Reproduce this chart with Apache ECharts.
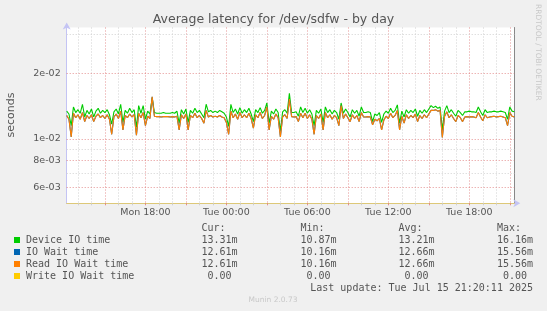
<!DOCTYPE html>
<html><head><meta charset="utf-8">
<script src="https://cdn.jsdelivr.net/npm/echarts@6/dist/echarts.min.js"></script>
<style>html,body{margin:0;padding:0;background:#f0f0f0}#c{width:547px;height:311px}</style>
</head><body><div id="c"></div>
<script>
const titleText = 'Average latency for /dev/sdfw - by day';
const yAxisName = 'seconds';
const startMinute = 730;   // Mon 12:10, minutes from Mon 00:00
const stepMinutes = 10;
const dayNames = ['Mon', 'Tue'];
const xTickLabels = ['Mon 18:00', 'Tue 00:00', 'Tue 06:00', 'Tue 12:00', 'Tue 18:00'];
const yMajorTicks = [20, 10, 8, 6];          // milliseconds
const yMajorLabels = ['2e-02', '1e-02', '8e-03', '6e-03'];
const yMinorTicks = [30, 9, 7];
const yMin = 5.08, yMax = 32.3;

// values in milliseconds, one every 10 minutes
const deviceIO = [
13.4,13.0,11.5,14.0,13.2,13.6,13.1,14.4,12.6,13.5,13.0,13.7,12.6,13.4,13.8,13.1,13.5,13.2,13.6,12.9,
11.7,13.3,13.7,13.0,14.4,11.9,13.5,13.1,13.8,13.2,13.6,11.3,14.2,13.1,14.2,12.3,13.4,13.0,15.4,13.2,
13.1,13.1,13.1,13.2,13.1,13.1,13.1,13.2,13.1,13.4,11.8,13.6,13.0,13.7,11.9,13.5,13.1,13.8,13.2,13.5,
13.0,12.5,14.4,13.3,13.5,13.2,13.4,13.2,13.5,13.3,13.1,12.6,11.4,14.4,13.2,13.7,13.0,13.9,13.1,13.6,
13.2,13.8,13.0,12.0,13.6,13.2,13.9,13.1,13.5,14.6,11.8,13.4,13.0,13.7,13.2,10.87,13.3,13.6,13.1,16.16,
13.2,13.2,13.3,12.7,14.0,13.2,13.8,13.1,13.6,13.0,11.5,13.5,13.1,13.7,11.9,14.0,13.2,13.6,13.0,13.5,
13.2,12.3,14.6,13.1,13.7,13.2,12.6,13.6,13.1,13.5,12.7,14.0,13.2,13.2,13.3,13.2,12.0,13.0,12.8,13.2,
11.9,13.0,13.4,13.1,13.8,13.2,13.5,14.3,11.8,13.4,12.6,13.6,13.1,13.5,13.2,13.7,12.7,13.5,13.1,13.6,
13.2,13.7,14.2,13.9,14.1,13.8,14.0,11.0,13.4,14.2,13.2,13.6,13.1,12.7,13.5,13.2,12.8,13.3,13.3,13.4,
13.3,13.3,13.2,14.0,13.3,12.8,13.6,13.2,13.3,13.3,13.4,13.3,13.3,13.4,13.3,13.2,12.3,14.0,13.4,13.31
];
const readIOWait = [
12.8,12.3,10.2,13.1,12.5,12.9,12.3,13.2,12.0,12.8,12.4,12.9,12.0,12.7,13.0,12.5,12.8,12.4,12.9,12.3,
10.5,12.6,13.0,12.4,13.4,11.0,12.8,12.5,13.0,12.6,12.9,10.4,13.1,12.5,13.2,11.5,12.7,12.4,15.56,12.7,
12.65,12.65,12.6,12.65,12.65,12.65,12.6,12.65,12.6,12.7,11.0,12.9,12.4,13.0,11.0,12.8,12.5,13.1,12.5,12.8,
12.4,11.8,13.5,12.6,12.8,12.6,12.7,12.6,12.8,12.6,12.5,11.9,10.5,13.4,12.5,13.0,12.3,13.2,12.5,12.9,
12.5,13.1,12.4,11.2,12.9,12.5,13.2,12.4,12.8,14.0,11.0,12.7,12.3,13.0,12.5,10.2,12.6,12.9,12.4,15.2,
12.65,12.6,12.65,12.0,13.1,12.5,13.1,12.4,12.9,12.3,10.5,12.8,12.4,13.0,11.0,13.2,12.5,12.9,12.3,12.8,
12.5,11.5,14.2,12.4,13.0,12.5,12.0,12.9,12.4,12.8,12.0,13.2,12.6,12.6,12.65,12.6,11.6,12.3,12.1,12.4,
11.0,12.2,12.7,12.4,13.1,12.5,12.8,13.5,11.0,12.7,11.8,12.9,12.4,12.8,12.5,13.0,12.0,12.8,12.4,12.9,
12.5,13.0,13.5,13.5,13.6,13.4,13.5,10.16,12.7,13.3,12.5,12.9,12.4,12.0,12.8,12.5,12.0,12.6,12.65,12.6,
12.65,12.6,12.5,13.2,12.6,12.1,12.9,12.5,12.6,12.65,12.7,12.6,12.65,12.7,12.6,12.5,11.5,13.2,12.7,12.61
];
const ioWait = readIOWait.slice(); // identical to Read IO Wait time

const seriesNames = ['Device IO time', 'IO Wait time', 'Read IO Wait time', 'Write IO Wait time'];
const seriesColors = ['#00cc00', '#0066b3', '#ff8000', '#ffcc00'];
const statHeaders = ['Cur:', 'Min:', 'Avg:', 'Max:'];
const statCur = ['13.31m', '12.61m', '12.61m', ' 0.00'];
const statMin = ['10.87m', '10.16m', '10.16m', ' 0.00'];
const statAvg = ['13.21m', '12.66m', '12.66m', ' 0.00'];
const statMax = ['16.16m', '15.56m', '15.56m', ' 0.00'];
const lastUpdate = 'Last update: Tue Jul 15 21:20:11 2025';
const footer = 'Munin 2.0.73';
const watermark = 'RRDTOOL / TOBI OETIKER';

function pad(n) { return (n < 10 ? '0' : '') + n; }
const categories = deviceIO.map((_, i) => {
  const m = startMinute + i * stepMinutes;
  return dayNames[Math.floor(m / 1440)] + ' ' + pad(Math.floor((m % 1440) / 60)) + ':' + pad(m % 60);
});
function hourOf(v) { return v.endsWith(':00') ? parseInt(v.slice(4, 6), 10) : -1; }
const minorHour = (i, v) => { const h = hourOf(v); return h >= 0 && h % 3 !== 0; };
const majorHour = (i, v) => { const h = hourOf(v); return h >= 0 && h % 3 === 0; };

const MONO = '"DejaVu Sans Mono", monospace';
const SANS = '"DejaVu Sans", sans-serif';
const TXT = '#555';
const redGrid = 'rgba(220,110,110,0.75)';
const grayGrid = '#d0d0d0';

const gridLines = [];
yMajorTicks.forEach((v, k) => gridLines.push({
  yAxis: v, lineStyle: { color: redGrid, type: [1, 2], width: 1 },
  label: { show: true, position: 'start', formatter: yMajorLabels[k], color: TXT, fontSize: 9.5, fontFamily: SANS, distance: 6 }
}));
yMinorTicks.forEach(v => gridLines.push({
  yAxis: v, lineStyle: { color: grayGrid, type: [1, 2], width: 1 }, label: { show: false }
}));

const graphics = [];
graphics.push({ type: 'text', left: 'center', top: 13, style: { text: titleText, font: '12.5px ' + SANS, fill: TXT } });
graphics.push({ type: 'text', x: 11, y: 115, rotation: Math.PI / 2,
  style: { text: yAxisName, font: '11px ' + SANS, fill: TXT, align: 'center', verticalAlign: 'middle', textAlign: 'center', textVerticalAlign: 'middle' } });
graphics.push({ type: 'text', x: 538, y: 4, rotation: -Math.PI / 2,
  style: { text: watermark, font: '7.5px ' + SANS, fill: '#c8c8c8', align: 'left', verticalAlign: 'middle', textAlign: 'left', textVerticalAlign: 'middle' } });
const colX = [201.5, 300.5, 398.5, 497];
const headerY = 228, rowY0 = 240, rowStep = 12;
statHeaders.forEach((h, k) => graphics.push({ type: 'text', x: colX[k], y: headerY,
  style: { text: h, font: '10px ' + MONO, fill: TXT, verticalAlign: 'middle', textVerticalAlign: 'middle' } }));
const stats = [statCur, statMin, statAvg, statMax];
seriesNames.forEach((n, r) => {
  const y = rowY0 + r * rowStep;
  graphics.push({ type: 'rect', shape: { x: 14, y: y - 3, width: 6, height: 6 }, style: { fill: seriesColors[r] } });
  graphics.push({ type: 'text', x: 26, y: y, style: { text: n, font: '10px ' + MONO, fill: TXT, verticalAlign: 'middle', textVerticalAlign: 'middle' } });
  stats.forEach((col, k) => graphics.push({ type: 'text', x: colX[k], y: y,
    style: { text: col[r], font: '10px ' + MONO, fill: TXT, verticalAlign: 'middle', textVerticalAlign: 'middle' } }));
});
graphics.push({ type: 'text', x: 533, y: 288, style: { text: lastUpdate, font: '10px ' + MONO, fill: TXT, align: 'right', textAlign: 'right', verticalAlign: 'middle', textVerticalAlign: 'middle' } });
graphics.push({ type: 'text', x: 273, y: 300, style: { text: footer, font: '7.5px ' + SANS, fill: '#c8c8c8', align: 'center', textAlign: 'center', verticalAlign: 'middle', textVerticalAlign: 'middle' } });

const chart = echarts.init(document.getElementById('c'));
chart.setOption({
  animation: false,
  backgroundColor: '#f0f0f0',
  grid: { left: 66.7, right: 32.7, top: 27.5, bottom: 107.7, show: true, backgroundColor: '#ffffff', borderWidth: 0 },
  xAxis: [
    { type: 'category', data: categories, boundaryGap: false, position: 'bottom',
      axisLine: { show: true, lineStyle: { color: '#c4c4f4', width: 1 }, symbol: ['none', 'arrow'], symbolSize: [6, 7], symbolOffset: [0, 6] },
      axisTick: { show: true, interval: minorHour, length: 2, lineStyle: { color: grayGrid } },
      axisLabel: { interval: (i, v) => xTickLabels.includes(v), color: TXT, fontSize: 9.5, fontFamily: SANS, margin: 4 },
      splitLine: { show: true, interval: minorHour, lineStyle: { color: grayGrid, type: [1, 2], width: 1 } } },
    { type: 'category', data: categories, boundaryGap: false, position: 'bottom',
      axisLine: { show: true, lineStyle: { color: '#ddc878', width: 1 } },
      axisTick: { show: true, interval: majorHour, length: 2, lineStyle: { color: redGrid } },
      axisLabel: { show: false },
      splitLine: { show: true, interval: majorHour, lineStyle: { color: redGrid, type: [1, 2], width: 1 } } }
  ],
  yAxis: [
    { type: 'log', logBase: 10, min: yMin, max: yMax, position: 'left',
      axisLine: { show: true, lineStyle: { color: '#c4c4f4', width: 1 }, symbol: ['none', 'arrow'], symbolSize: [6, 7], symbolOffset: [0, 5] },
      axisTick: { show: false }, axisLabel: { show: false }, splitLine: { show: false } },
    { type: 'value', min: 0, max: 1, position: 'right',
      axisLine: { show: true, lineStyle: { color: '#888888', width: 1 } },
      axisTick: { show: false }, axisLabel: { show: false }, splitLine: { show: false } }
  ],
  series: [
    { name: 'grid', type: 'line', data: [], xAxisIndex: 0, yAxisIndex: 0, z: 1, silent: true,
      markLine: { silent: true, symbol: ['none', 'none'], animation: false, z: 1, data: gridLines } },
    { name: seriesNames[0], type: 'line', data: deviceIO, xAxisIndex: 0, yAxisIndex: 0, symbol: 'none', z: 3,
      lineStyle: { color: seriesColors[0], width: 1.1 }, itemStyle: { color: seriesColors[0] } },
    { name: seriesNames[1], type: 'line', data: ioWait, xAxisIndex: 0, yAxisIndex: 0, symbol: 'none', z: 3,
      lineStyle: { color: seriesColors[1], width: 1.1 }, itemStyle: { color: seriesColors[1] } },
    { name: seriesNames[2], type: 'line', data: readIOWait, xAxisIndex: 0, yAxisIndex: 0, symbol: 'none', z: 4,
      lineStyle: { color: seriesColors[2], width: 1.1 }, itemStyle: { color: seriesColors[2] } }
  ],
  graphic: graphics
});
</script></body></html>
